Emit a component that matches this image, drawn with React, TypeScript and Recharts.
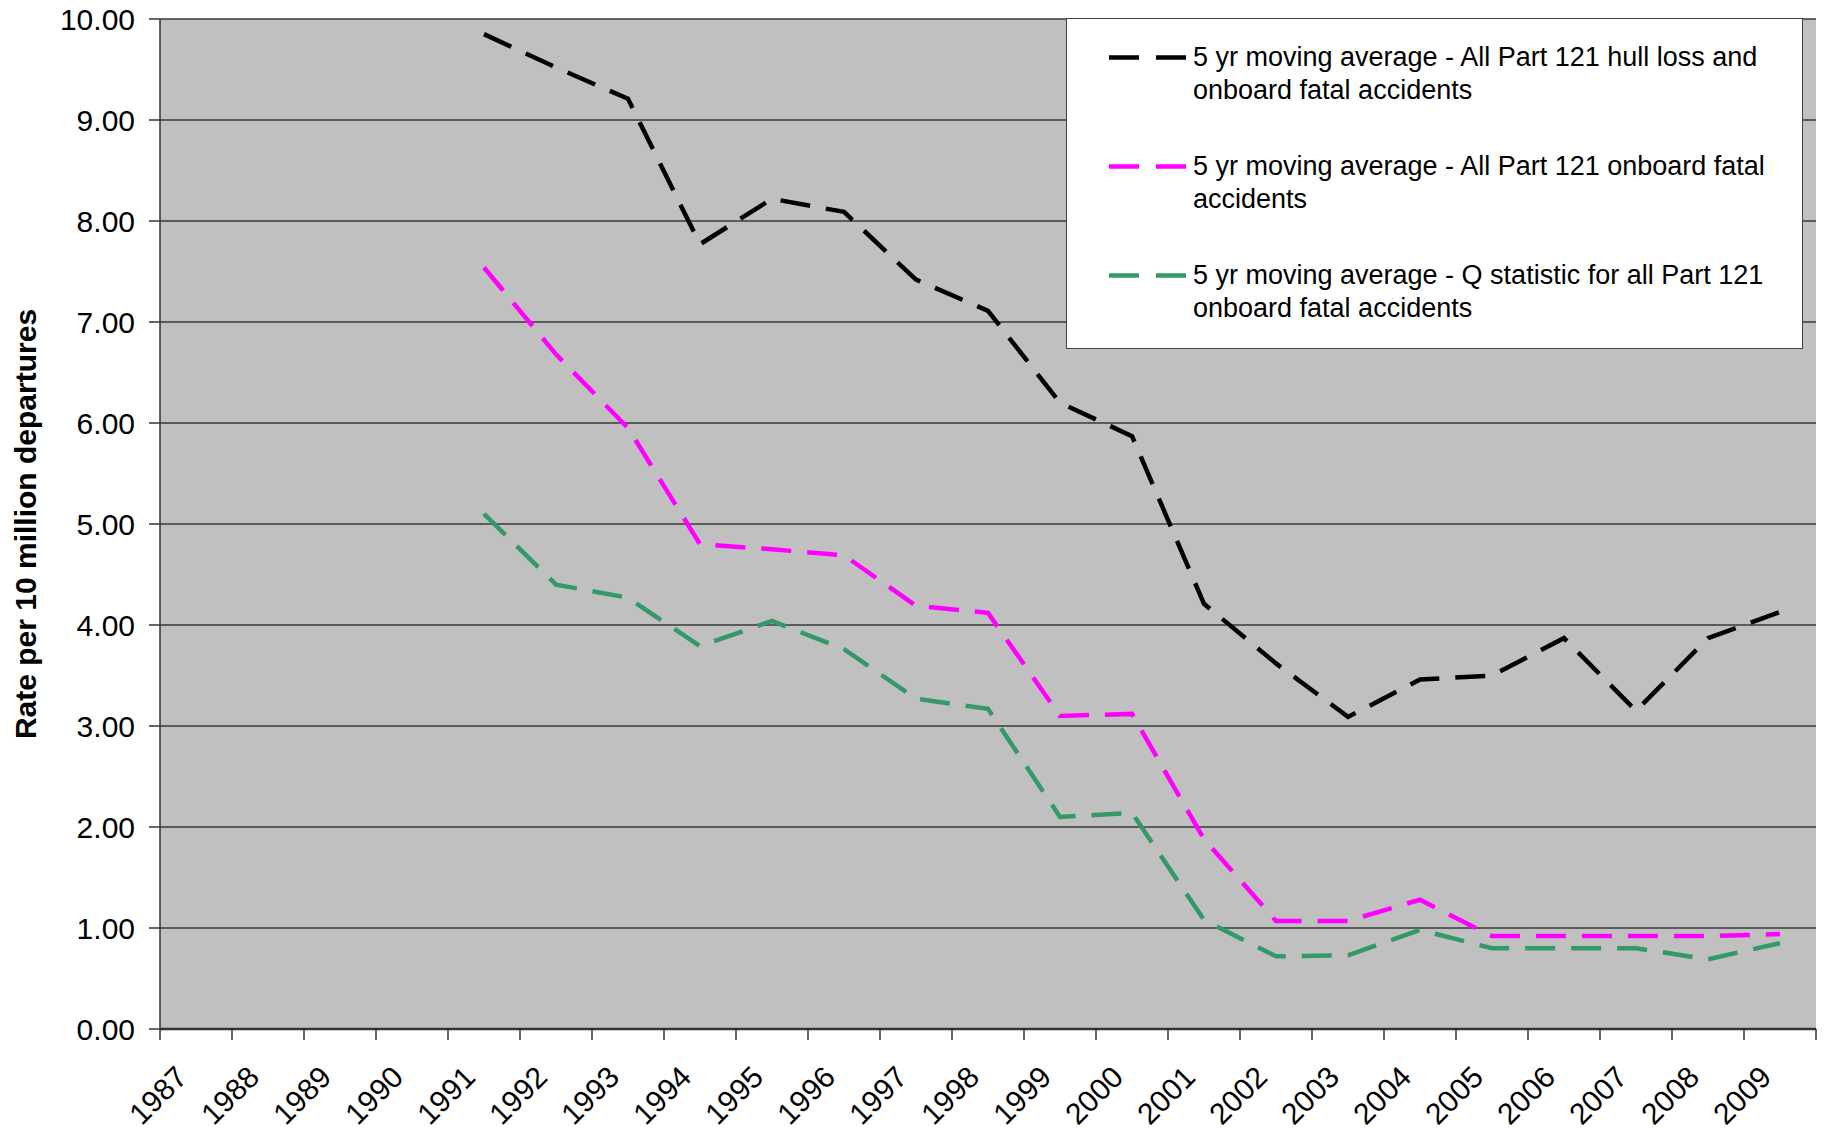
import { CartesianGrid, Line, LineChart, XAxis, YAxis } from "recharts";

const years = [
  "1987", "1988", "1989", "1990", "1991", "1992", "1993", "1994", "1995", "1996", "1997", "1998",
  "1999", "2000", "2001", "2002", "2003", "2004", "2005", "2006", "2007", "2008", "2009",
];

// 1987-1990 have no 5 yr average yet
const hullLossAndFatal = [
  null, null, null, null, 9.85, 9.52, 9.21, 7.77, 8.22, 8.09, 7.42, 7.11,
  6.2, 5.87, 4.21, 3.62, 3.09, 3.46, 3.5, 3.87, 3.15, 3.87, 4.13,
];
const onboardFatal = [
  null, null, null, null, 7.54, 6.68, 5.95, 4.8, 4.75, 4.69, 4.19, 4.12,
  3.1, 3.12, 1.88, 1.07, 1.07, 1.28, 0.92, 0.92, 0.92, 0.92, 0.94,
];
const qStatistic = [
  null, null, null, null, 5.1, 4.4, 4.27, 3.79, 4.04, 3.76, 3.27, 3.17,
  2.1, 2.14, 1.08, 0.72, 0.73, 0.98, 0.8, 0.8, 0.8, 0.69, 0.85,
];

const yTicks = [0, 1, 2, 3, 4, 5, 6, 7, 8, 9, 10];

const series = [
  { key: "hull", color: "#000000", name: "5 yr moving average - All Part 121 hull loss and onboard fatal accidents" },
  { key: "fatal", color: "#FF00FF", name: "5 yr moving average - All Part 121 onboard fatal accidents" },
  { key: "q", color: "#339966", name: "5 yr moving average - Q statistic for all Part 121 onboard fatal accidents" },
];

const data = years.map((year, i) => ({
  year,
  hull: hullLossAndFatal[i],
  fatal: onboardFatal[i],
  q: qStatistic[i],
}));

const FONT = "'Liberation Sans', Arial, sans-serif";
const W = 1835;
const H = 1129;
const LEFT = 160;
const RIGHT = 19;
const TOP = 19;
const BOTTOM = 100;
const BAND = (W - LEFT - RIGHT) / years.length;
const DASH = "30 16";

function YearTick(props: any) {
  const { x, y, payload, index } = props;
  const left = x - BAND / 2;
  const ax = x - 7;
  const ay = y + 50;
  return (
    <g>
      <line x1={left} y1={y} x2={left} y2={y + 11} stroke="#333" strokeWidth={1.5} />
      {index === years.length - 1 && (
        <line x1={x + BAND / 2} y1={y} x2={x + BAND / 2} y2={y + 11} stroke="#333" strokeWidth={1.5} />
      )}
      <text
        x={ax}
        y={ay}
        textAnchor="end"
        transform={`rotate(-45, ${ax}, ${ay})`}
        fontSize={30}
        fontFamily={FONT}
        fill="#000"
      >
        {payload.value}
      </text>
    </g>
  );
}

function LegendBox() {
  return (
    <div
      style={{
        position: "absolute",
        left: 1066,
        top: 18,
        width: 737,
        height: 331,
        boxSizing: "border-box",
        background: "#fff",
        border: "1.5px solid #444",
        paddingTop: 22,
        fontFamily: FONT,
        fontSize: 27,
        lineHeight: "33px",
        color: "#000",
      }}
    >
      {series.map((s) => (
        <div key={s.key} style={{ display: "flex", height: 109 }}>
          <svg width={126} height={33} style={{ flexShrink: 0 }}>
            <line x1={42} y1={16.5} x2={120} y2={16.5} stroke={s.color} strokeWidth={4.5} strokeDasharray="30 17" />
          </svg>
          <div style={{ width: 595 }}>{s.name}</div>
        </div>
      ))}
    </div>
  );
}

export default function App() {
  return (
    <div style={{ position: "absolute", left: 0, top: 0, width: W, height: H, background: "#fff" }}>
      <LineChart width={W} height={H} data={data} margin={{ top: TOP, right: RIGHT, bottom: 0, left: 0 }}>
        <CartesianGrid fill="#C0C0C0" vertical={false} stroke="#3a3a3a" strokeWidth={1.5} />
        <XAxis
          dataKey="year"
          scale="band"
          height={BOTTOM}
          interval={0}
          tickLine={false}
          tickSize={0}
          tickMargin={0}
          axisLine={{ stroke: "#333", strokeWidth: 2.5 }}
          tick={<YearTick />}
        />
        <YAxis
          width={LEFT}
          domain={[0, 10]}
          ticks={yTicks}
          interval={0}
          tickFormatter={(v: number) => v.toFixed(2)}
          tickSize={11}
          tickMargin={14}
          tickLine={{ stroke: "#333", strokeWidth: 1.5 }}
          axisLine={{ stroke: "#333", strokeWidth: 1.5 }}
          tick={{ fontSize: 30, fontFamily: FONT, fill: "#000" }}
          label={{
            content: ({ viewBox }: any) => {
              const cx = viewBox.x + 25;
              const cy = viewBox.y + viewBox.height / 2;
              return (
                <text
                  x={cx}
                  y={cy}
                  transform={`rotate(-90, ${cx}, ${cy})`}
                  textAnchor="middle"
                  dominantBaseline="central"
                  fontSize={30}
                  fontWeight="bold"
                  fontFamily={FONT}
                  fill="#000"
                >
                  Rate per 10 million departures
                </text>
              );
            },
          }}
        />
        <YAxis
          yAxisId="border"
          orientation="right"
          width={0}
          domain={[0, 10]}
          tick={false}
          tickLine={false}
          axisLine={{ stroke: "#888", strokeWidth: 2 }}
        />
        {series.map((s) => (
          <Line
            key={s.key}
            dataKey={s.key}
            name={s.name}
            stroke={s.color}
            strokeWidth={4.5}
            strokeDasharray={DASH}
            dot={false}
            isAnimationActive={false}
          />
        ))}
      </LineChart>
      <LegendBox />
    </div>
  );
}
